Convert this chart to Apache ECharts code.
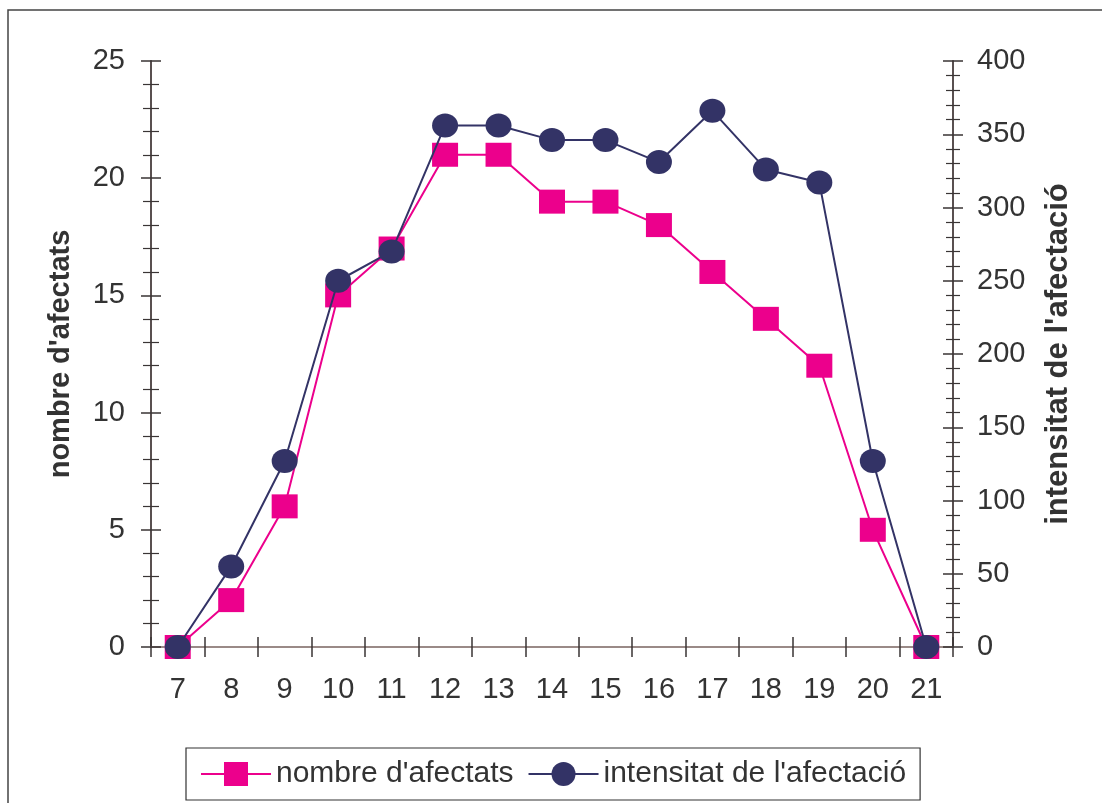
<!DOCTYPE html>
<html>
<head>
<meta charset="utf-8">
<script src="https://cdn.jsdelivr.net/npm/echarts@6/dist/echarts.min.js"></script>
<style>html,body{margin:0;padding:0;background:#fff;}#c{width:1102px;height:803px;}</style>
</head>
<body>
<div id="c"></div>
<script>
const categories = ['7','8','9','10','11','12','13','14','15','16','17','18','19','20','21'];
const afectats = [0, 2, 6, 15, 17, 21, 21, 19, 19, 18, 16, 14, 12, 5, 0];
const intensitat = [0, 55, 127, 250, 270, 356, 356, 346, 346, 331, 366, 326, 317, 127, 0];
const leftName = "nombre d'afectats";
const rightName = "intensitat de l'afectació";

const FONT = "'Liberation Sans', Arial, Helvetica, sans-serif";
const PINK = '#EC008C';
const NAVY = '#333366';
const ELLIPSE = 'path://M0 12A13 12 0 1 0 26 12A13 12 0 1 0 0 12Z';

const chart = echarts.init(document.getElementById('c'), null, {renderer: 'canvas'});

function yAx(pos, max, interval, inside, showLabel, name, gap, nameSize, majorLen, minorLen) {
  return {
    type: 'value', position: pos, min: 0, max: max, interval: interval,
    name: name, nameLocation: 'middle', nameGap: gap,
    nameTextStyle: {fontFamily: FONT, fontSize: nameSize, fontWeight: 'bold', color: '#333'},
    axisLine: {show: !inside, lineStyle: {color: '#595050', width: 2}},
    axisTick: {show: true, inside: inside, length: majorLen, lineStyle: {color: '#3a3535', width: 1.5}},
    minorTick: {show: true, splitNumber: 5, length: minorLen, lineStyle: {color: '#3a3535', width: 1.2}},
    axisLabel: {show: showLabel, fontFamily: FONT, fontSize: 29, color: '#333', margin: pos === 'left' ? 26 : 24},
    splitLine: {show: false}, minorSplitLine: {show: false}
  };
}

const option = {
  animation: false,
  backgroundColor: '#fff',
  textStyle: {fontFamily: FONT},
  graphic: [{
    type: 'rect', z: -10, silent: true,
    shape: {x: 8, y: 10, width: 1300, height: 1000},
    style: {fill: 'none', stroke: '#444', lineWidth: 1.5}
  }],
  grid: {left: 151, right: 149, top: 61, bottom: 156, containLabel: false},
  legend: {
    show: true, left: 186, top: 748,
    padding: [11, 14, 11, 14],
    borderColor: '#333', borderWidth: 1.2,
    itemWidth: 70, itemHeight: 30, itemGap: 14,
    textStyle: {fontFamily: FONT, fontSize: 30, color: '#333'},
    data: [leftName, rightName]
  },
  xAxis: [
    {type: 'category', data: categories, position: 'bottom', boundaryGap: true,
     axisLine: {lineStyle: {color: '#4a4545', width: 2}},
     axisTick: {show: true, inside: false, length: 10, lineStyle: {color: '#3a3535', width: 1.5}},
     axisLabel: {fontFamily: FONT, fontSize: 29, color: '#333', margin: 28},
     splitLine: {show: false}},
    {type: 'category', data: categories, position: 'bottom', boundaryGap: true,
     axisLine: {show: false},
     axisTick: {show: true, inside: true, length: 10, lineStyle: {color: '#3a3535', width: 1.5}},
     axisLabel: {show: false}, splitLine: {show: false}},
    {type: 'category', data: categories, position: 'top', boundaryGap: true,
     axisLine: {show: true, lineStyle: {color: '#9a8a87', width: 2}},
     axisTick: {show: false}, axisLabel: {show: false}, splitLine: {show: false}}
  ],
  yAxis: [
    yAx('left', 25, 5, false, true, leftName, 76, 29, 10, 8),
    yAx('right', 400, 50, false, true, rightName, 90, 31, 10, 7),
    yAx('left', 25, 5, true, false, '', 0, 28, 10, 8),
    yAx('right', 400, 50, true, false, '', 0, 28, 10, 7)
  ],
  series: [
    {name: leftName, type: 'line', xAxisIndex: 0, yAxisIndex: 0, data: afectats,
     symbol: 'rect', symbolSize: [26, 24], z: 2,
     lineStyle: {color: PINK, width: 2}, itemStyle: {color: PINK}},
    {name: rightName, type: 'line', xAxisIndex: 0, yAxisIndex: 1, data: intensitat,
     symbol: ELLIPSE, symbolSize: [26, 24], symbolKeepAspect: false, z: 3,
     lineStyle: {color: NAVY, width: 2}, itemStyle: {color: NAVY}}
  ]
};
chart.setOption(option);
</script>
</body>
</html>
